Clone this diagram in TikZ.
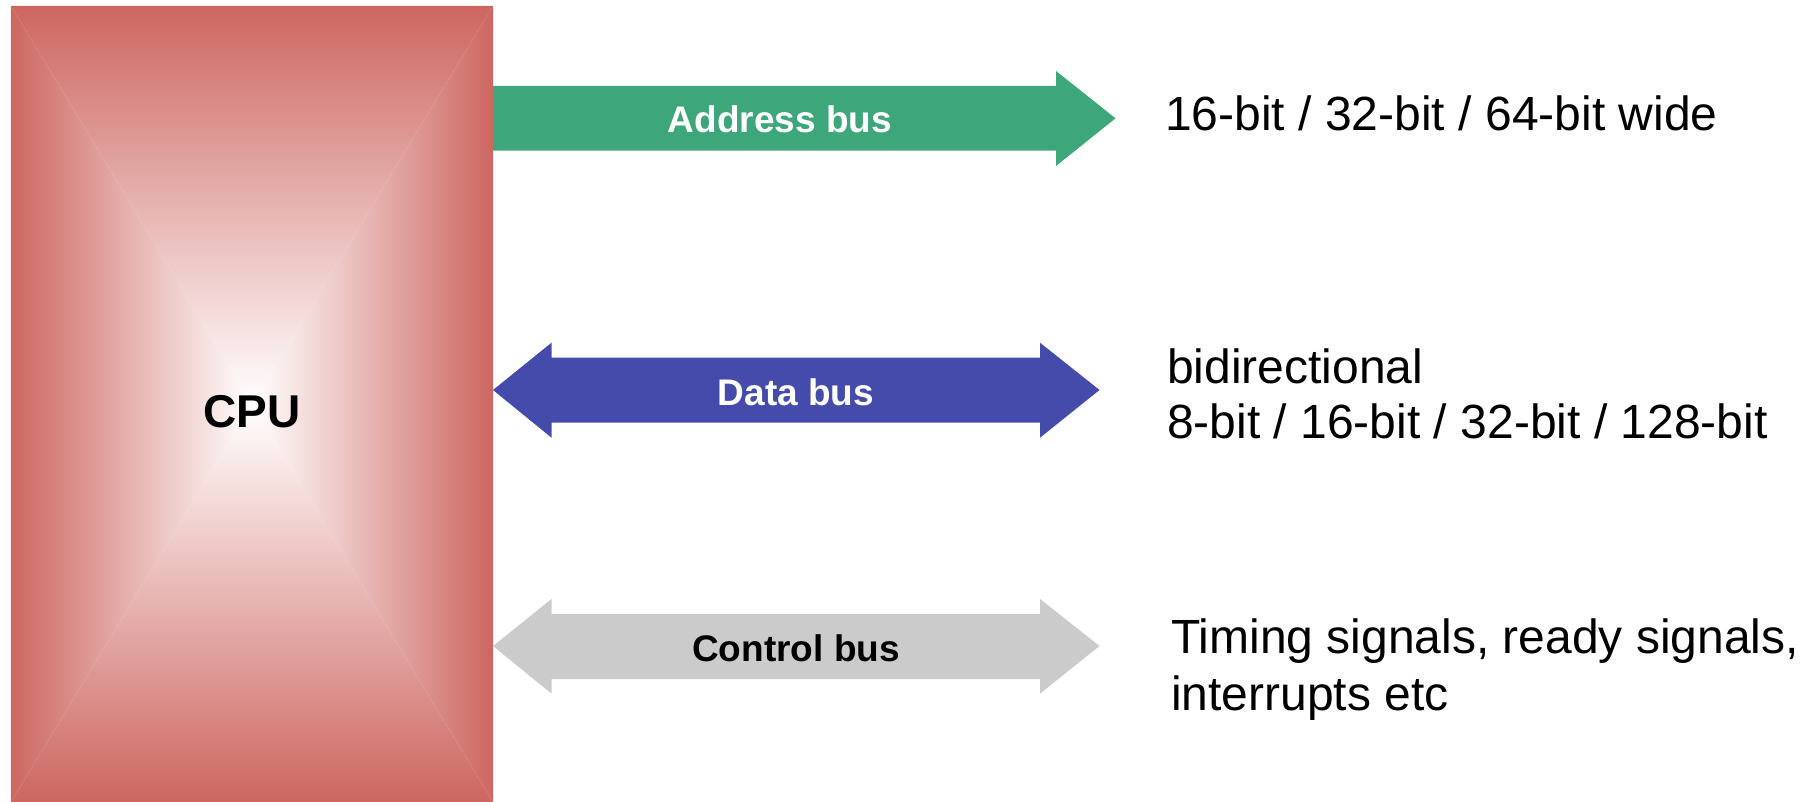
\documentclass[tikz,border=0pt]{standalone}
\usepackage{fontspec}
\setmainfont{Liberation Sans}
\definecolor{cpured}{RGB}{205,102,96}
\definecolor{busgreen}{RGB}{61,167,123}
\definecolor{busblue}{RGB}{68,75,170}
\definecolor{busgray}{RGB}{203,203,203}
\tikzset{
  cpubox/.style={minimum width=482pt, minimum height=796pt, inner sep=0pt, draw=none},
  buslabel/.style={font=\fontsize{37}{44}\selectfont\bfseries, inner sep=0pt, anchor=base},
  desc/.style={font=\fontsize{48}{55}\selectfont, inner sep=0pt, anchor=base west},
}
\begin{document}
\begin{tikzpicture}[x=1pt,y=-1pt]
\useasboundingbox (0,0) rectangle (1811,802);
% CPU block with rectangular gradient
\node[cpubox] (cpu) at (252,404) {};
\shade[top color=cpured, bottom color=white] (cpu.north west) -- (cpu.north east) -- (cpu.center) -- cycle;
\shade[top color=white, bottom color=cpured] (cpu.south west) -- (cpu.south east) -- (cpu.center) -- cycle;
\shade[left color=cpured, right color=white] (cpu.north west) -- (cpu.south west) -- (cpu.center) -- cycle;
\shade[left color=white, right color=cpured] (cpu.north east) -- (cpu.south east) -- (cpu.center) -- cycle;
\node[font=\fontsize{46}{52}\selectfont\bfseries, inner sep=0pt, anchor=base] (cputext) at (252,427) {CPU};

% Address bus (single arrow)
\coordinate (atip) at (1115.5,118.3);
\fill[busgreen] (493,86) -- (1056,86) -- (1056,71) -- (atip) -- (1056,166) -- (1056,150.7) -- (493,150.7) -- cycle;
\node[buslabel, text=white] (addr) at (780,133) {Address bus};

% Data bus (double arrow)
\coordinate (dl) at (493,390);
\coordinate (dr) at (1099.5,390);
\fill[busblue] (dl) -- (551.5,342.7) -- (551.5,357.7) -- (1040,357.7) -- (1040,342.7) -- (dr) -- (1040,437.7) -- (1040,422.7) -- (551.5,422.7) -- (551.5,437.7) -- cycle;
\node[buslabel, text=white] (data) at (796,405) {Data bus};

% Control bus (double arrow)
\coordinate (cl) at (493,646);
\coordinate (cr) at (1099.5,646);
\fill[busgray] (cl) -- (551.5,599) -- (551.5,614) -- (1040,614) -- (1040,599) -- (cr) -- (1040,693.7) -- (1040,679) -- (551.5,679) -- (551.5,693.7) -- cycle;
\node[buslabel, text=black] (ctrl) at (796,661) {Control bus};

% Descriptions
\node[desc] (d1) at (1165,131) {16-bit / 32-bit / 64-bit wide};
\node[desc] (d2) at (1167,383) {bidirectional};
\node[desc] (d3) at (1167,438) {8-bit / 16-bit / 32-bit / 128-bit};
\node[desc] (d4) at (1171,653) {Timing signals, ready signals,};
\node[desc] (d5) at (1171,710) {interrupts etc};
\end{tikzpicture}
\end{document}
